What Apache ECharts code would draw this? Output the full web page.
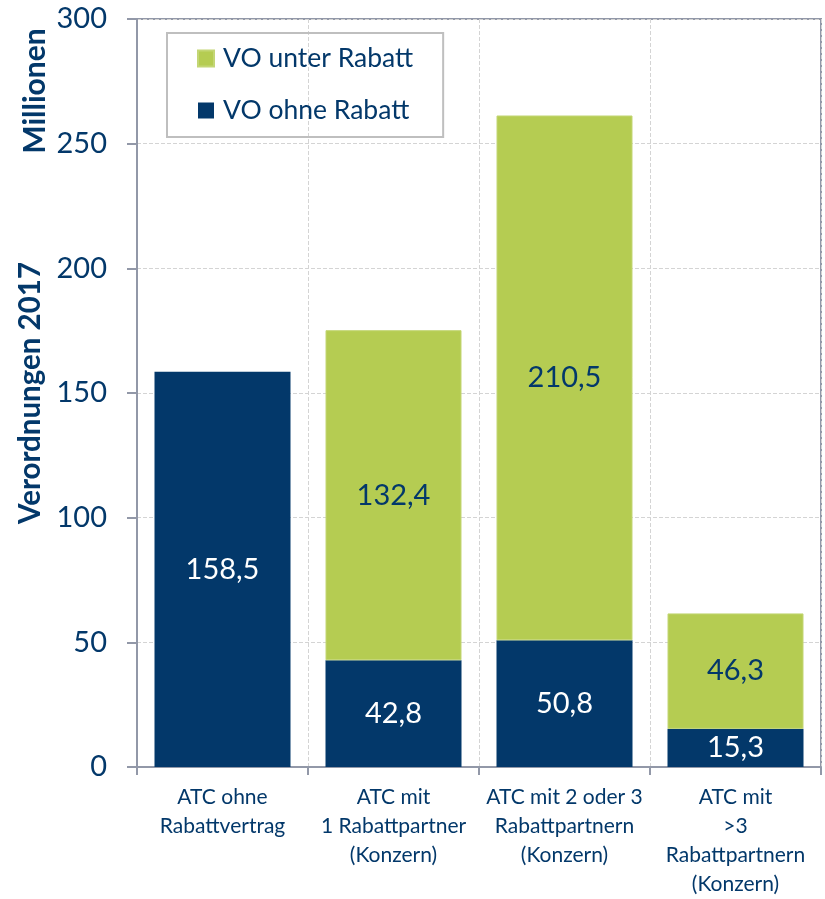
<!DOCTYPE html>
<html>
<head>
<meta charset="utf-8">
<script src="https://cdn.jsdelivr.net/npm/echarts@6/dist/echarts.min.js"></script>
<style>
  html, body { margin: 0; padding: 0; background: #fff; }
  #chart { width: 825px; height: 899px; }
</style>
</head>
<body>
<div id="chart"></div>
<script>
// Daten (Millionen Verordnungen 2017)
const categories = [
  'ATC ohne\nRabattvertrag',
  'ATC mit\n1 Rabattpartner\n(Konzern)',
  'ATC mit 2 oder 3\nRabattpartnern\n(Konzern)',
  'ATC mit\n>3\nRabattpartnern\n(Konzern)'
];
const ohneRabatt = [158.5, 42.8, 50.8, 15.3];
const unterRabatt = ['-', 132.4, 210.5, 46.3];
const yTicks = [0, 50, 100, 150, 200, 250, 300];

const BLUE = '#03386A';
const GREEN = '#B5CC52';
const FONT = 'Lato';

const chart = echarts.init(document.getElementById('chart'));

const fmt = p => String(p.value).replace('.', ',');

const option = {
  animation: false,
  textStyle: { fontFamily: FONT },
  grid: {
    left: 137,
    right: 4,
    top: 19,
    bottom: 130,
    show: true,
    borderColor: '#9298A8',
    borderWidth: 2
  },
  legend: {
    orient: 'vertical',
    left: 167,
    top: 33,
    padding: [10, 30, 11, 30],
    itemGap: 21,
    itemWidth: 16,
    itemHeight: 16,
    icon: 'rect',
    borderColor: '#BFBFBF',
    borderWidth: 2,
    data: ['VO unter Rabatt', 'VO ohne Rabatt'],
    textStyle: {
      color: BLUE,
      fontSize: 26.5,
      lineHeight: 31,
      fontFamily: FONT,
      padding: [0, 0, 0, 4]
    }
  },
  graphic: [
    {
      type: 'text',
      x: 35,
      y: 91,
      rotation: Math.PI / 2,
      style: {
        text: 'Millionen',
        fill: BLUE,
        font: 'bold 30px Lato',
        align: 'center',
        verticalAlign: 'middle'
      }
    }
  ],
  xAxis: {
    type: 'category',
    data: categories,
    axisLine: { lineStyle: { color: '#9298A8', width: 2 } },
    axisTick: { show: true, length: 8, lineStyle: { color: '#9298A8', width: 2 } },
    splitLine: { show: true, lineStyle: { color: '#D4D4D4', type: 'dashed', width: 1 } },
    axisLabel: {
      color: BLUE,
      fontSize: 21,
      lineHeight: 29,
      margin: 16,
      interval: 0,
      fontFamily: FONT
    }
  },
  yAxis: {
    type: 'value',
    min: 0,
    max: 300,
    interval: 50,
    name: 'Verordnungen 2017',
    nameLocation: 'middle',
    nameGap: 89,
    nameTextStyle: { color: BLUE, fontSize: 29.5, fontWeight: 'bold', fontFamily: FONT },
    axisLine: { show: true, lineStyle: { color: '#9298A8', width: 2 } },
    axisTick: { show: true, length: 10, lineStyle: { color: '#9298A8', width: 2 } },
    splitLine: { show: true, lineStyle: { color: '#D4D4D4', type: 'dashed', width: 1 } },
    axisLabel: {
      color: BLUE,
      fontSize: 29,
      margin: 30,
      fontFamily: FONT,
      formatter: v => (yTicks.includes(v) ? String(v) : '')
    }
  },
  series: [
    {
      name: 'VO ohne Rabatt',
      type: 'bar',
      stack: 'vo',
      barWidth: 136,
      data: ohneRabatt,
      itemStyle: { color: BLUE },
      label: {
        show: true,
        position: 'inside',
        color: '#FFFFFF',
        fontSize: 29,
        fontFamily: FONT,
        formatter: fmt
      }
    },
    {
      name: 'VO unter Rabatt',
      type: 'bar',
      stack: 'vo',
      barWidth: 136,
      data: unterRabatt,
      itemStyle: { color: GREEN, borderColor: '#C3D675', borderWidth: 1 },
      label: {
        show: true,
        position: 'inside',
        color: BLUE,
        fontSize: 29,
        fontFamily: FONT,
        formatter: fmt
      }
    }
  ]
};

chart.setOption(option);
</script>
</body>
</html>
